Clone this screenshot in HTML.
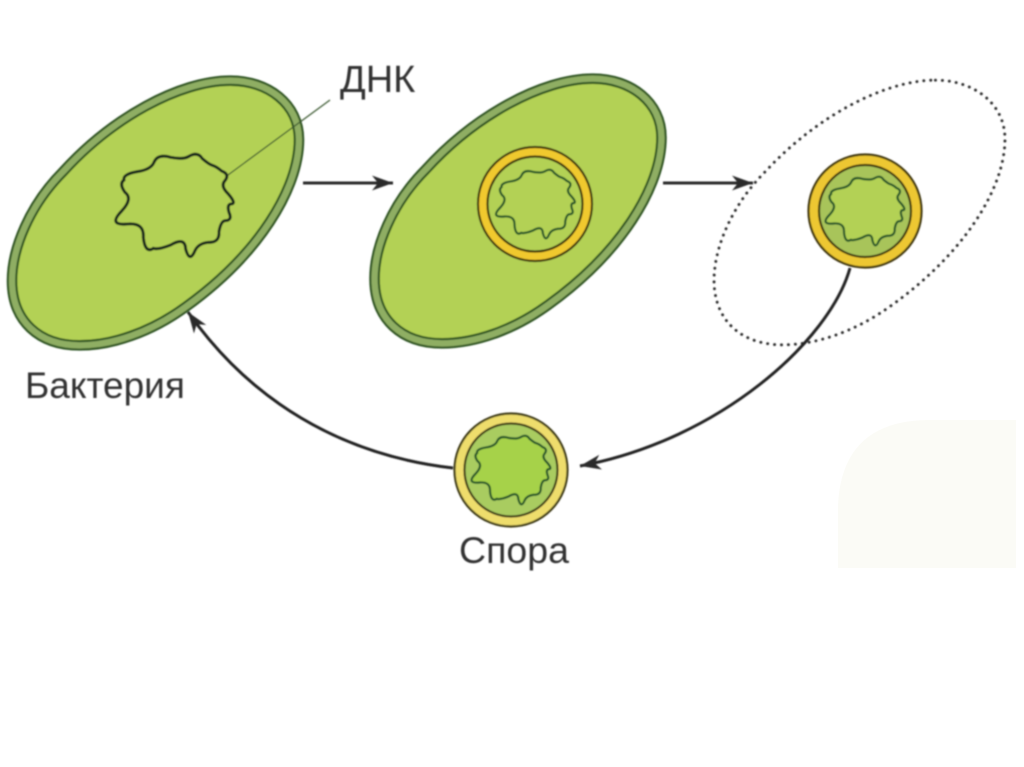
<!DOCTYPE html>
<html><head><meta charset="utf-8"><style>
html,body{margin:0;padding:0;background:#fff}
svg{display:block}
text{font-family:"Liberation Sans",sans-serif;fill:#333}
</style></head><body>
<svg width="1024" height="767" viewBox="0 0 1024 767" xmlns="http://www.w3.org/2000/svg">
<defs>
<filter id="b" x="-5%" y="-5%" width="110%" height="110%"><feGaussianBlur stdDeviation="0.7"/></filter>
<path id="cell" d="M233,76 C272,76 304,100 304,137 C304,188 262,256 187,310 C150,337 110,350 77,350 C35,350 7,325 7,283 C7,250 25,205 60,170 C110,115 180,76 233,76 Z" transform="translate(155.5,213) scale(.966) translate(-155.5,-213)"/>
<path id="dna" d="M675,362 Q690,342.5 665,333 Q649,319.5 637,316 Q628,314 607,296 Q593,273.5 567,289 Q550.5,299.5 512,292 Q473,280.5 462,307 Q453,329 412,335 Q368,342.5 372,360 Q356.5,371.5 375,397 Q399.5,415.5 366,452 Q321,498 384,492 Q433,488 430,532 Q435,581.5 460,565 Q474,570 512,555 Q555.5,529 557,567 Q569,610.5 585,572 Q595,550.5 625,547 Q659,549 657,515 Q663,481.5 677,482 Q698,480.5 687,457 Q680.5,435.5 692,432 Q711.5,433 685,402 Q660,378 675,362 Z"/>
<marker id="h" markerWidth="24" markerHeight="18" refX="21" refY="9" orient="auto" markerUnits="userSpaceOnUse"><path d="M0,1.5 L21,9 L0,16.5 L6,9 Z" fill="#2b2b2b"/></marker>
</defs>
<rect width="1024" height="767" fill="#fff"/>
<path d="M838,568 V505 Q842,420 930,420 H1016 V568 Z" fill="#fbfbf6"/>
<g filter="url(#b)">
<!-- cell 1 -->
<use href="#cell" fill="#b3d155" stroke="#2f5522" stroke-width="11"/>
<use href="#cell" fill="none" stroke="#8fae63" stroke-width="6.5"/>
<path d="M228,175 L330,100" stroke="#3e5a32" stroke-width="1.3" fill="none"/>
<use href="#dna" transform="translate(0,60) scale(.3333)" fill="#b3d155" stroke="#12261a" stroke-width="9"/>
<!-- cell 2 -->
<g transform="translate(362.5,-2)">
<use href="#cell" fill="#b3d155" stroke="#2f5522" stroke-width="11"/>
<use href="#cell" fill="none" stroke="#8fae63" stroke-width="6.5"/>
</g>
<circle cx="535" cy="204" r="57" fill="#f0c92f" stroke="#3d3510" stroke-width="2.2"/>
<circle cx="535" cy="204" r="47.5" fill="#b3d155" stroke="#3d3510" stroke-width="2.2"/>
<use href="#dna" transform="translate(535.5,204) scale(.2233) translate(-524,-436)" fill="#b3d155" stroke="#22552a" stroke-width="10"/>
<!-- cell 3 dotted -->
<g transform="translate(859.5,212.5) scale(1.014,1) translate(-155.5,-213)">
<use href="#cell" fill="none" stroke="#2d2d2d" stroke-width="3" stroke-linecap="round" stroke-dasharray="0.1 7"/>
</g>
<circle cx="865" cy="211" r="56.5" fill="#edc733" stroke="#3d3510" stroke-width="2.2"/>
<circle cx="865" cy="211" r="46" fill="#a8c45a" stroke="#3d3510" stroke-width="2.2"/>
<use href="#dna" transform="translate(865,211) scale(.2233) translate(-524,-436)" fill="#b3d155" stroke="#22552a" stroke-width="10"/>
<!-- spore -->
<circle cx="511" cy="470" r="56.5" fill="#eedd6c" stroke="#3d3a14" stroke-width="2.2"/>
<circle cx="511" cy="470" r="46.5" fill="#a9cc60" stroke="#3d3a14" stroke-width="2.2"/>
<use href="#dna" transform="translate(511,470) scale(.2233) translate(-524,-436)" fill="#a6d248" stroke="#22552a" stroke-width="10"/>
<!-- arrows -->
<path d="M303,183 H393" stroke="#2b2b2b" stroke-width="3" fill="none" marker-end="url(#h)"/>
<path d="M663,183 H753" stroke="#2b2b2b" stroke-width="3" fill="none" marker-end="url(#h)"/>
<path d="M850,268 C830,340 720,440 580,466" stroke="#222" stroke-width="3" fill="none" marker-end="url(#h)"/>
<path d="M453,468 C340,455 250,400 188,312" stroke="#222" stroke-width="3" fill="none" marker-end="url(#h)"/>
<!-- labels -->
<text x="340" y="92" font-size="38">ДНК</text>
<text x="25" y="398" font-size="37">Бактерия</text>
<text x="459" y="563" font-size="37.5">Спора</text>
</g>
</svg>
</body></html>
